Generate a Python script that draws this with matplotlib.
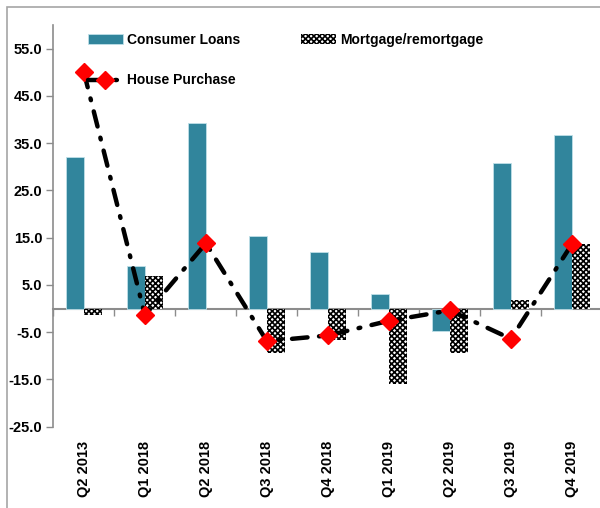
import matplotlib
matplotlib.use('Agg')
import matplotlib.pyplot as plt
import numpy as np
from matplotlib.patches import Rectangle

# dados
QUARTERS = ['Q2 2013', 'Q1 2018', 'Q2 2018', 'Q3 2018', 'Q4 2018',
            'Q1 2019', 'Q2 2019', 'Q3 2019', 'Q4 2019']
CONSUMER = [32.0, 9.0, 39.2, 15.4, 12.0, 3.0, -4.8, 30.8, 36.7]
MORTGAGE = [-1.4, 6.9, 0.0, -9.5, -6.7, -15.9, -9.4, 1.8, 13.6]
HOUSE = [50.0, -1.4, 13.8, -6.9, -5.7, -2.6, -0.4, -6.4, 13.6]
YTICKS = [-25, -15, -5, 5, 15, 25, 35, 45, 55]

TEAL = '#31859C'
GREY = '#8c8c8c'

plt.rcParams['font.family'] = ['Liberation Sans', 'DejaVu Sans']
plt.rcParams['hatch.linewidth'] = 1.2

fig = plt.figure(figsize=(6.0, 5.08), dpi=100)

# moldura cinza em volta do grafico
fig.patches.append(Rectangle((7 / 600, -0.1), 1.1, 1.1 - 7 / 508,
                             transform=fig.transFigure, fill=False,
                             edgecolor='#a6a6a6', linewidth=1.2))

ax = fig.add_axes([0.089, 0.160, 0.915, 0.791])

x = np.arange(len(QUARTERS))
width = 0.295

h_cons = ax.bar(x - width / 2, CONSUMER, width=width, color=TEAL, edgecolor='#bfe0e8',
                linewidth=0.6, label='Consumer Loans', zorder=2)
h_mort = ax.bar(x + width / 2, MORTGAGE, width=width, color='white', edgecolor='black',
                hatch='xxxxxx', linewidth=0, label='Mortgage/remortgage', zorder=2)
h_house, = ax.plot(x, HOUSE, color='black', linewidth=3.2,
                   linestyle=(0, (3.5, 2.6, 0.4, 2.6)), dash_capstyle='round',
                   marker='D', markersize=9, markerfacecolor='red', markeredgecolor='red',
                   label='House Purchase', zorder=3)

ax.set_xlim(-0.5, len(QUARTERS) - 0.5)
ax.set_ylim(-25, 60)
ax.set_yticks(YTICKS)
ax.set_yticklabels(['%.1f' % v for v in YTICKS], fontsize=10.5, fontweight='bold')

ax.set_xticks(x)
ax.set_xticklabels(QUARTERS, rotation=90, fontsize=10.5, fontweight='bold')
ax.tick_params(axis='x', length=0, pad=10)
ax.tick_params(axis='y', length=5, color=GREY, width=1, pad=3)

for side in ('top', 'right', 'bottom'):
	ax.spines[side].set_visible(False)
ax.spines['left'].set_color(GREY)
ax.spines['left'].set_linewidth(1.2)

# eixo horizontal cruzando em zero
sec = ax.secondary_xaxis(25 / 85)
sec.set_xticks(np.arange(len(QUARTERS) + 1) - 0.5)
sec.set_xticklabels([])
sec.tick_params(axis='x', direction='out', length=5, color=GREY, width=1)
sec.spines['bottom'].set_color(GREY)
sec.spines['bottom'].set_linewidth(1.5)
sec.set_zorder(1)

ax.legend([h_cons, h_house, h_mort],
          ['Consumer Loans', 'House Purchase', 'Mortgage/remortgage'],
          ncol=2, loc='upper left', bbox_to_anchor=(88 / 600, 1 - 33 / 508),
          bbox_transform=fig.transFigure, frameon=False, borderpad=0,
          borderaxespad=0, handlelength=2.5, handletextpad=0.3,
          columnspacing=4.4, labelspacing=1.9, numpoints=1,
          prop={'size': 10, 'weight': 'bold'})

fig.savefig('out.png', dpi=100)
plt.close()
